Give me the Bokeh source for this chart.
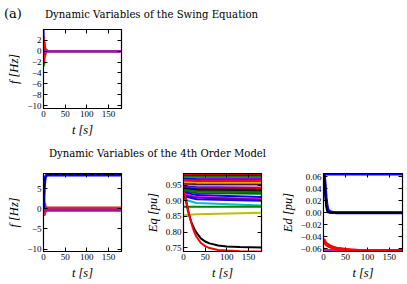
from bokeh.plotting import figure
from bokeh.layouts import column, row
from bokeh.models import Range1d, FixedTicker, LinearAxis, CustomJSTickFormatter, Div
from bokeh.embed import file_html
from bokeh.resources import INLINE

# ---------------- data ----------------
X_TICKS = [0, 50, 100, 150]
PANEL_LABEL = "(a)"
TITLE_SWING = "Dynamic Variables of the Swing Equation"
TITLE_4TH = "Dynamic Variables of the 4th Order Model"

# (a) swing equation: frequency deviations
TS = [0, 0.5, 1, 1.5, 2, 2.5, 3, 3.5, 4, 5, 6, 8, 10, 180]
s_blue = [4.0, 2.0, -0.5, 0.8, -0.3, 0.3, 0.0, 0.1, 0.0, 0.0, 0.0, 0.0, 0.0, 0.0]
s_red = [0.0, 2.8, 1.5, -1.5, -2.4, 1.2, 1.8, -1.0, -0.8, 0.5, -0.2, 0.1, 0.0, 0.0]
s_green = [0.0, -1.0, -2.8, -1.0, 1.2, 0.6, -0.5, 0.8, 1.0, -0.6, 0.3, 0.2, 0.0, 0.0]
s_black = [0.0, 1.0, 0.5, -1.2, 0.3, -0.8, 0.6, 0.2, -0.3, 0.1, 0.0, 0.0, 0.0, 0.0]
s_purple = [0.0, 0.3, -0.2, 0.4, -0.3, 0.2, -0.1, 0.1, 0.0, 0.0, 0.0, 0.0, 0.0, 0.0]
SWING_YTICKS = [-10, -8, -6, -4, -2, 0, 2]

# 4th order model: frequency
TF = [0, 1, 2, 3, 4, 5, 6, 7, 8, 10, 15, 180]
f_blue = [0.0, 3.0, 5.6, 7.0, 7.7, 8.0, 8.2, 8.3, 8.35, 8.4, 8.4, 8.4]
f_black = [0.0, 2.8, 5.4, 6.9, 7.6, 8.0, 8.2, 8.3, 8.4, 8.5, 8.55, 8.55]
f_red = [0.0, 2.0, -1.5, 1.2, -0.9, 0.6, -0.3, 0.2, 0.2, 0.2, 0.2, 0.2]
f_crimson = [0.0, -1.8, 1.4, -1.0, 0.7, -0.4, 0.2, 0.0, 0.0, 0.0, 0.0, 0.0]
f_magenta = [0.0, 1.0, -1.0, 0.6, -0.5, 0.2, -0.3, -0.2, -0.2, -0.2, -0.2, -0.2]
f_purple = [0.0, -0.6, 0.5, -0.4, 0.2, -0.3, -0.4, -0.45, -0.45, -0.45, -0.45, -0.45]
f_green = [0.0, 2.4, 0.5, -0.5, 0.3, 0.0, -0.1, -0.1, -0.1, -0.1, -0.1, -0.1]
F_YTICKS = [-10, -5, 0, 5]

# 4th order model: Eq  (nearly flat lines given at t = 0, 30, 180)
TQ_FLAT = [0, 30, 180]
q_colors = ["#8b0000", "#ff0000", "#800000", "#008000", "#ff00ff", "#0000ff", "#bf00bf",
            "#ff0000", "#ffa500", "#000000", "#ff69b4", "#0000ff", "#ff0000", "#00008b",
            "#000000", "#008000", "#006400", "#0000ff", "#ff00ff", "#800080", "#0000ff",
            "#00bfbf", "#008000", "#bfbf00"]
q_start = [0.986, 0.983, 0.980, 0.977, 0.973, 0.970, 0.966, 0.962, 0.958, 0.953, 0.949, 0.945,
           0.942, 0.940, 0.937, 0.934, 0.930, 0.927, 0.922, 0.918, 0.915, 0.905, 0.881, 0.854]
q_mid = [0.986, 0.983, 0.981, 0.976, 0.972, 0.969, 0.965, 0.962, 0.957, 0.952, 0.948, 0.943,
         0.941, 0.937, 0.933, 0.930, 0.925, 0.918, 0.912, 0.910, 0.905, 0.893, 0.881, 0.857]
q_end = [0.986, 0.983, 0.981, 0.976, 0.972, 0.968, 0.965, 0.962, 0.957, 0.951, 0.948, 0.941,
         0.940, 0.935, 0.930, 0.927, 0.922, 0.912, 0.905, 0.903, 0.900, 0.885, 0.881, 0.862]
TQ = [0, 5, 10, 15, 20, 25, 30, 40, 50, 60, 80, 100, 130, 180]
q_black = [0.925, 0.905, 0.870, 0.845, 0.825, 0.810, 0.798, 0.780, 0.770, 0.764, 0.757, 0.754, 0.752, 0.751]
q_red = [0.930, 0.910, 0.875, 0.845, 0.820, 0.800, 0.785, 0.765, 0.755, 0.749, 0.743, 0.741, 0.739, 0.738]
Q_YTICKS = [0.75, 0.80, 0.85, 0.90, 0.95]

# 4th order model: Ed
TD = [0, 2, 4, 6, 8, 10, 15, 20, 30, 40, 60, 80, 100, 130, 180]
d_blue = [0.065, 0.062, 0.045, 0.025, 0.012, 0.005, 0.002, 0.001, 0.0, 0.0, 0.0, 0.0, 0.0, 0.0, 0.0]
d_navy = [0.064, 0.060, 0.040, 0.020, 0.008, 0.003, 0.001, 0.0, 0.0, 0.0, 0.0, 0.0, 0.0, 0.0, 0.0]
d_black = [0.063, 0.055, 0.030, 0.012, 0.004, 0.001, 0.0, 0.0, 0.0, 0.0, 0.0, 0.0, 0.0, 0.0, 0.0]
d_top = [0.065, 0.065, 0.065, 0.065, 0.065, 0.065, 0.065, 0.065, 0.065, 0.065, 0.065, 0.065, 0.065, 0.065, 0.065]
d_cyan = [0.058, 0.063, 0.065, 0.065, 0.065, 0.065, 0.065, 0.065, 0.065, 0.065, 0.065, 0.065, 0.065, 0.065, 0.065]
d_red1 = [-0.044, -0.046, -0.049, -0.051, -0.052, -0.053, -0.055, -0.057, -0.059, -0.060, -0.062, -0.063, -0.063, -0.064, -0.064]
d_red2 = [-0.047, -0.049, -0.051, -0.053, -0.054, -0.055, -0.057, -0.058, -0.060, -0.061, -0.062, -0.063, -0.063, -0.063, -0.063]
d_green = [-0.060, -0.060, -0.061, -0.061, -0.061, -0.062, -0.062, -0.062, -0.062, -0.062, -0.062, -0.062, -0.062, -0.062, -0.062]
d_magenta = [-0.063, -0.063, -0.063, -0.063, -0.063, -0.063, -0.063, -0.063, -0.063, -0.063, -0.063, -0.063, -0.063, -0.063, -0.063]
d_purple = [-0.064, -0.064, -0.064, -0.064, -0.064, -0.064, -0.064, -0.064, -0.064, -0.064, -0.064, -0.064, -0.064, -0.064, -0.064]
D_YTICKS = [-0.06, -0.04, -0.02, 0.00, 0.02, 0.04, 0.06]

# ---------------- styling ----------------
SERIF = "Liberation Serif"
TITLE_FONT = "'DejaVu Serif', serif"
PAGE_W = 407


def fmt(decimals):
    return CustomJSTickFormatter(
        code="return tick.toFixed(%d).replace('-', '\\u2212');" % decimals)


def style_axis(ax):
    ax.major_tick_in = 4
    ax.major_tick_out = 0
    ax.minor_tick_line_color = None
    ax.axis_line_color = "black"
    ax.major_tick_line_color = "black"
    ax.major_tick_line_width = 1


def make_fig(width, height, yr, yticks, ydec, ylabel, bl, br, bt, bb):
    p = figure(width=width, height=height, x_range=Range1d(0, 180), y_range=Range1d(*yr),
               output_backend="svg", toolbar_location=None,
               min_border_left=bl, min_border_right=br, min_border_top=bt, min_border_bottom=bb)
    p.grid.visible = False
    p.outline_line_color = "black"
    p.outline_line_width = 1.2
    bottom = p.below[0]
    left = p.left[0]
    bottom.ticker = FixedTicker(ticks=X_TICKS)
    left.ticker = FixedTicker(ticks=yticks)
    bottom.formatter = fmt(0)
    left.formatter = fmt(ydec)
    bottom.axis_label = "t [s]"
    left.axis_label = ylabel
    for ax in (bottom, left):
        style_axis(ax)
        ax.major_label_standoff = 2
        ax.axis_label_standoff = 3
        ax.axis_label_text_font = SERIF
        ax.axis_label_text_font_style = "italic"
        ax.axis_label_text_font_size = "12.5px"
        ax.axis_label_text_color = "black"
        ax.major_label_text_font = SERIF
        ax.major_label_text_font_size = "9px"
        ax.major_label_text_color = "black"
    for loc, ticks in (("right", yticks), ("above", X_TICKS)):
        ax = LinearAxis(ticker=FixedTicker(ticks=ticks))
        style_axis(ax)
        ax.major_label_text_color = None
        ax.major_label_text_font_size = "1px"
        ax.major_label_standoff = 0
        p.add_layout(ax, loc)
    return p


def header(height, items):
    spans = "".join(
        '<span style="position:absolute;left:%dpx;top:%.1fpx;font-family:%s;font-size:%.2fpx;'
        'line-height:1;white-space:nowrap;color:#000">%s</span>' % (x, t, TITLE_FONT, s, txt)
        for x, t, s, txt in items)
    return Div(text='<div style="position:relative;width:%dpx;height:%dpx">%s</div>' % (PAGE_W, height, spans),
               width=PAGE_W, height=height, margin=0)


LW = 2

head1 = header(25, [(4, 7.3, 13, PANEL_LABEL), (45, 9.6, 10.15, TITLE_SWING)])

pA = make_fig(PAGE_W, 115, (-10.55, 4.0), SWING_YTICKS, 0, "f [Hz]", 43, 286, 4, 32)
pA.line(TS, s_black, line_color="black", line_width=LW)
pA.line(TS, s_blue, line_color="#0000ff", line_width=LW)
pA.line(TS, s_green, line_color="#00a000", line_width=LW)
pA.line(TS, s_red, line_color="#ff0000", line_width=LW)
pA.line(TS, s_purple, line_color="#a01aa8", line_width=2.5)

head2 = header(26, [(49, 8.6, 10.1, TITLE_4TH)])

# 4th order: frequency
pB = make_fig(131, 118, (-10.6, 8.75), F_YTICKS, 0, "f [Hz]", 43, 10, 7, 33)
pB.line(TF, f_green, line_color="#00a000", line_width=LW)
pB.line(TF, f_red, line_color="#ff2020", line_width=3)
pB.line(TF, f_crimson, line_color="#e0204a", line_width=3)
pB.line(TF, f_magenta, line_color="#c0206a", line_width=3)
pB.line(TF, f_purple, line_color="#9a1a8a", line_width=2.5)
pB.line(TF, f_blue, line_color="#0000ff", line_width=3)
pB.line(TF, f_black, line_color="black", line_width=1.5, line_dash="4 3")

# 4th order: Eq
pC = make_fig(140, 118, (0.738, 0.987), Q_YTICKS, 2, "Eq [pu]", 52, 10, 7, 33)
for c, a, m, e in zip(q_colors, q_start, q_mid, q_end):
    pC.line(TQ_FLAT, [a, m, e], line_color=c, line_width=LW)
pC.line(TQ, q_black, line_color="black", line_width=LW)
pC.line(TQ, q_red, line_color="#ff0000", line_width=LW)

# 4th order: Ed
pD = make_fig(136, 118, (-0.0645, 0.0657), D_YTICKS, 2, "Ed [pu]", 52, 5, 7, 33)
pD.line(TD, d_cyan, line_color="#00bfbf", line_width=LW)
pD.line(TD, d_top, line_color="#0000ff", line_width=3)
pD.line(TD, d_navy, line_color="#0000aa", line_width=LW)
pD.line(TD, d_blue, line_color="#0000ff", line_width=3)
pD.line(TD, d_black, line_color="black", line_width=LW)
pD.line(TD, d_green, line_color="#00a000", line_width=LW)
pD.line(TD, d_purple, line_color="#9a1a8a", line_width=LW)
pD.line(TD, d_magenta, line_color="#cc2299", line_width=LW)
pD.line(TD, d_red2, line_color="#ff0000", line_width=3)
pD.line(TD, d_red1, line_color="#ff0000", line_width=3)

layout = column(head1, pA, head2, row(pB, pC, pD))

with open("out.html", "w") as f:
    f.write(file_html(layout, INLINE))
